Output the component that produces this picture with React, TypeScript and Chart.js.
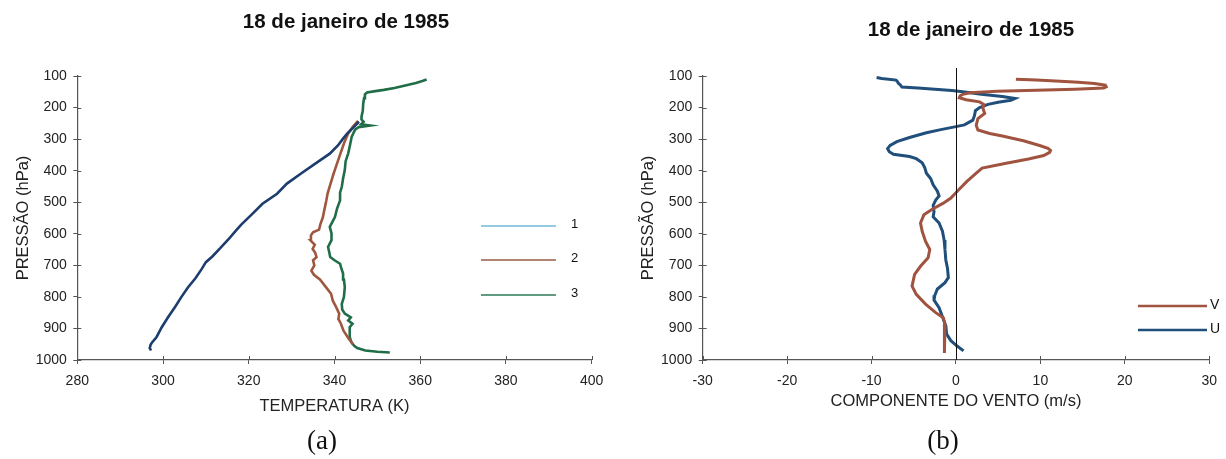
import React, { useEffect, useRef } from "react";
import { Chart, registerables } from "chart.js";

Chart.register(...registerables);

const FONT = "'Liberation Sans', Arial, sans-serif";
const TITLE_TEXT = "18 de janeiro de 1985";

// ---------- (a) Temperature profiles ----------
const tempSeriesLabels = ["1", "2", "3"];
const tempLineColors = ["#1c3d6e", "#a0573f", "#1f6e48"];
const tempLegendColors = ["#6fbbd9", "#9a5a45", "#2d7a58"];

const s1Pressure = [970, 962, 952, 945, 927, 896, 864, 832, 800, 770, 740, 712, 690, 672, 645, 615, 590, 570, 540, 505, 473, 441, 409, 377, 346, 320, 300, 282, 262, 245];
const s1Temp = [297.2, 296.9, 297.1, 297.4, 298.5, 299.7, 301.2, 302.8, 304.3, 305.8, 307.6, 309.0, 310.0, 311.5, 313.4, 315.4, 317.0, 318.3, 320.6, 323.2, 326.6, 328.9, 332.2, 335.6, 338.9, 340.8, 341.9, 343.0, 344.5, 345.7];

const s2Pressure = [950, 930, 907, 885, 870, 853, 830, 812, 790, 769, 745, 730, 717, 700, 684, 674, 660, 648, 635, 621, 605, 595, 587, 570, 547, 526, 494, 472, 440, 409, 377, 345, 310, 282, 260, 242];
const s2Temp = [344.3, 343.2, 342.1, 341.5, 340.9, 341.1, 340.3, 339.6, 339.2, 338.0, 336.6, 335.2, 334.6, 335.3, 335.0, 335.8, 335.5, 334.9, 335.4, 334.4, 334.5, 335.0, 336.4, 336.7, 337.3, 337.6, 338.1, 338.4, 339.1, 339.8, 340.6, 341.4, 342.3, 343.2, 344.3, 345.5];

const s3Pressure = [976, 974, 970, 962, 955, 945, 930, 910, 896, 885, 875, 865, 853, 840, 822, 800, 769, 745, 726, 710, 695, 684, 674, 660, 642, 620, 599, 578, 560, 547, 520, 494, 470, 451, 425, 398, 370, 345, 320, 293, 270, 262, 257, 253, 245, 238, 229, 210, 187, 170, 158, 152, 148, 144, 138, 130, 122, 116, 111];
const s3Temp = [352.9, 350.0, 347.2, 345.3, 344.6, 344.0, 343.6, 343.5, 343.6, 344.2, 343.2, 343.8, 342.4, 341.8, 341.7, 342.2, 342.4, 342.2, 342.0, 341.6, 341.3, 340.0, 339.0, 338.8, 338.5, 339.3, 339.3, 338.9, 339.6, 340.1, 340.6, 341.3, 341.3, 341.7, 342.0, 342.4, 342.6, 343.2, 343.6, 344.0, 344.8, 345.6, 348.3, 346.2, 346.8, 346.3, 346.3, 346.6, 346.7, 346.9, 347.1, 347.6, 349.5, 351.5, 354.0, 356.5, 359.0, 360.5, 361.5];

// ---------- (b) Wind components ----------
const windSeriesLabels = ["V", "U"];
const windLineColors = ["#a0533e", "#1f4f7a"];

const vPressure = [110, 113, 116, 120, 124, 129, 134, 138, 142, 145, 148, 153, 158, 163, 169, 175, 182, 190, 203, 219, 235, 256, 271, 282, 290, 298, 305, 313, 321, 329, 336, 342, 352, 363, 377, 392, 408, 434, 461, 487, 503, 524, 540, 566, 592, 624, 650, 676, 703, 729, 766, 792, 823, 850, 866, 887, 918, 950, 978];
const vWind = [7.1, 9.5, 11.8, 14.5, 16.4, 17.7, 17.8, 17.5, 14.1, 9.5, 4.9, 1.7, 0.8, 0.5, 0.4, 1.2, 2.8, 3.3, 3.2, 3.4, 2.6, 2.4, 2.6, 4.0, 5.5, 6.8, 8.0, 9.0, 10.0, 10.9, 11.2, 11.1, 10.4, 8.6, 5.8, 3.1, 2.4, 1.3, 0.3, -0.6, -1.5, -2.9, -3.8, -4.2, -4.0, -3.6, -3.1, -3.3, -4.2, -4.9, -5.2, -4.7, -3.6, -2.4, -1.5, -1.3, -1.4, -1.4, -1.3];

const uPressure = [105, 108, 113, 116, 119, 124, 128, 135, 138, 142, 146, 150, 158, 165, 171, 177, 183, 190, 200, 210, 225, 240, 255, 262, 270, 280, 295, 308, 320, 330, 340, 348, 355, 362, 375, 390, 408, 425, 445, 465, 480, 493, 510, 530, 546, 566, 592, 620, 650, 683, 710, 739, 755, 775, 795, 810, 834, 863, 892, 918, 939, 955, 971];
const uWind = [-9.4, -8.8, -7.1, -7.0, -6.9, -6.8, -6.6, -6.4, -4.5, -2.5, -0.5, 0.8, 3.0, 5.5, 7.0, 6.5, 5.0, 3.8, 2.8, 2.3, 2.2, 2.0, 1.0, -0.3, -1.8, -3.5, -5.5, -7.0, -7.8, -8.1, -7.9, -7.4, -5.5, -4.7, -4.0, -3.7, -3.5, -3.0, -2.7, -2.2, -2.0, -2.4, -2.7, -2.6, -2.7, -2.0, -1.6, -1.4, -1.3, -1.2, -1.0, -0.9, -1.3, -2.2, -2.5, -2.6, -2.0, -1.6, -1.2, -1.1, -0.6, 0.1, 0.9];

const pts = (xs: number[], ys: number[]) => xs.map((x, i) => ({ x, y: ys[i] }));

const decorPlugin = {
  id: "decor",
  afterDraw(chart: any, _args: any, opts: any) {
    const ctx = chart.ctx;
    const ca = chart.chartArea;
    const xs = chart.scales.x;
    const ys = chart.scales.y;
    ctx.save();
    // inner halves of tick marks
    ctx.strokeStyle = "#555";
    ctx.lineWidth = 1;
    ctx.beginPath();
    xs.ticks.forEach((t: any) => {
      const px = Math.round(xs.getPixelForValue(t.value)) + 0.5;
      ctx.moveTo(px, ca.bottom);
      ctx.lineTo(px, ca.bottom - 4);
    });
    ys.ticks.forEach((t: any) => {
      const py = Math.round(ys.getPixelForValue(t.value)) + 0.5;
      ctx.moveTo(ca.left, py);
      ctx.lineTo(ca.left + 4, py);
    });
    ctx.stroke();
    // zero reference line
    if (opts.zeroLine) {
      const zx = Math.round(xs.getPixelForValue(0)) + 0.5;
      ctx.strokeStyle = "#111";
      ctx.lineWidth = 1;
      ctx.beginPath();
      ctx.moveTo(zx, ca.top - 8);
      ctx.lineTo(zx, ca.bottom);
      ctx.stroke();
    }
    // title
    ctx.fillStyle = "#111";
    ctx.font = `bold 20.5px ${FONT}`;
    ctx.textAlign = "center";
    ctx.textBaseline = "middle";
    ctx.fillText(opts.title, opts.titleX, opts.titleY);
    // legend
    const ds = chart.data.datasets;
    ds.forEach((d: any, i: number) => {
      const y = opts.legendYs[i];
      ctx.strokeStyle = opts.legendColors ? opts.legendColors[i] : d.borderColor;
      ctx.lineWidth = opts.legendWidth;
      ctx.beginPath();
      ctx.moveTo(opts.legendX1, y);
      ctx.lineTo(opts.legendX2, y);
      ctx.stroke();
      ctx.fillStyle = "#111";
      ctx.font = `${opts.legendFont}px ${FONT}`;
      ctx.textAlign = "left";
      ctx.textBaseline = "middle";
      ctx.fillText(d.label, opts.legendTextX, y + opts.legendTextDy);
    });
    ctx.restore();
  },
};

function axisCommon(extra: any) {
  return {
    type: "linear",
    grid: { drawOnChartArea: false, drawTicks: true, tickLength: 4, color: "#555", lineWidth: 1 },
    border: { color: "#555", width: 1.2 },
    ...extra,
  };
}

const plainTick = (v: any) => String(v);

function buildConfig(kind: "a" | "b") {
  const tickFont = { family: FONT, size: 14 };
  const titleFont = { family: FONT, size: 16.5 };
  const yAxis = axisCommon({
    reverse: true,
    min: 100,
    max: 1000,
    ticks: { stepSize: 100, padding: 6.5, font: tickFont, color: "#222", callback: plainTick },
    title: {
      display: true,
      text: "PRESSÃO (hPa)",
      font: titleFont,
      color: "#222",
      padding: { top: kind === "a" ? 14 : 26, bottom: 0 },
    },
    afterFit: (s: any) => {
      s.width = kind === "a" ? 77.3 : 89.7;
    },
  });
  if (kind === "a") {
    const series = [
      pts(s1Temp, s1Pressure),
      pts(s2Temp, s2Pressure),
      pts(s3Temp, s3Pressure),
    ];
    return {
      type: "scatter",
      data: {
        datasets: series.map((data, i) => ({
          label: tempSeriesLabels[i],
          data,
          showLine: true,
          borderColor: tempLineColors[i],
          backgroundColor: tempLineColors[i],
          borderWidth: 2.6,
          pointRadius: 0,
          tension: 0,
        })),
      },
      options: {
        responsive: false,
        animation: false,
        events: [],
        layout: { padding: { left: 0, top: 76, right: 21.3, bottom: 0 } },
        plugins: {
          legend: { display: false },
          tooltip: { enabled: false },
          decor: {
            title: TITLE_TEXT,
            titleX: 346,
            titleY: 22,
            zeroLine: false,
            legendColors: tempLegendColors,
            legendYs: [226, 260, 295],
            legendX1: 481,
            legendX2: 556,
            legendTextX: 571,
            legendTextDy: -2,
            legendWidth: 1.4,
            legendFont: 13,
          },
        },
        scales: {
          x: axisCommon({
            min: 280,
            max: 400,
            ticks: { stepSize: 20, padding: 9, font: tickFont, color: "#222", callback: plainTick },
            title: {
              display: true,
              text: "TEMPERATURA (K)",
              font: titleFont,
              color: "#222",
              padding: { top: 0, bottom: 43 },
            },
            afterFit: (s: any) => {
              s.height = 99;
            },
          }),
          y: yAxis,
        },
      },
      plugins: [decorPlugin],
    };
  }
  const series = [pts(vWind, vPressure), pts(uWind, uPressure)];
  return {
    type: "scatter",
    data: {
      datasets: series.map((data, i) => ({
        label: windSeriesLabels[i],
        data,
        showLine: true,
        borderColor: windLineColors[i],
        backgroundColor: windLineColors[i],
        borderWidth: 3,
        pointRadius: 0,
        tension: 0,
      })),
    },
    options: {
      responsive: false,
      animation: false,
      events: [],
      layout: { padding: { left: 0, top: 76, right: 8.5, bottom: 0 } },
      plugins: {
        legend: { display: false },
        tooltip: { enabled: false },
        decor: {
          title: TITLE_TEXT,
          titleX: 358,
          titleY: 30,
          zeroLine: true,
          legendYs: [306, 330],
          legendX1: 525,
          legendX2: 594,
          legendTextX: 597,
          legendTextDy: -1,
          legendWidth: 2.6,
          legendFont: 14,
        },
      },
      scales: {
        x: axisCommon({
          min: -30,
          max: 30,
          ticks: { stepSize: 10, padding: 9, font: tickFont, color: "#222", callback: plainTick },
          title: {
            display: true,
            text: "COMPONENTE DO VENTO (m/s)",
            font: titleFont,
            color: "#222",
            padding: { top: 0, bottom: 48 },
          },
          afterFit: (s: any) => {
            s.height = 99;
          },
        }),
        y: yAxis,
      },
    },
    plugins: [decorPlugin],
  };
}

function Panel({ kind, left, caption, captionX }: { kind: "a" | "b"; left: number; caption: string; captionX: number }) {
  const ref = useRef<HTMLCanvasElement | null>(null);
  useEffect(() => {
    if (!ref.current) return;
    const chart = new Chart(ref.current, buildConfig(kind) as any);
    return () => chart.destroy();
  }, [kind]);
  return (
    <div style={{ position: "absolute", left, top: 0, width: 613, height: 459 }}>
      <canvas ref={ref} width={613} height={459} style={{ display: "block", width: 613, height: 459 }} />
      <div
        style={{
          position: "absolute",
          left: captionX - 40,
          width: 80,
          top: 426,
          lineHeight: "28px",
          textAlign: "center",
          fontFamily: "'Liberation Serif', 'Times New Roman', serif",
          fontSize: 27,
          color: "#111",
        }}
      >
        {caption}
      </div>
    </div>
  );
}

export default function App() {
  return (
    <div style={{ position: "absolute", left: 0, top: 0, width: 1226, height: 459, background: "#fff", overflow: "hidden" }}>
      <Panel kind="a" left={0} caption="(a)" captionX={322} />
      <Panel kind="b" left={613} caption="(b)" captionX={330} />
    </div>
  );
}
